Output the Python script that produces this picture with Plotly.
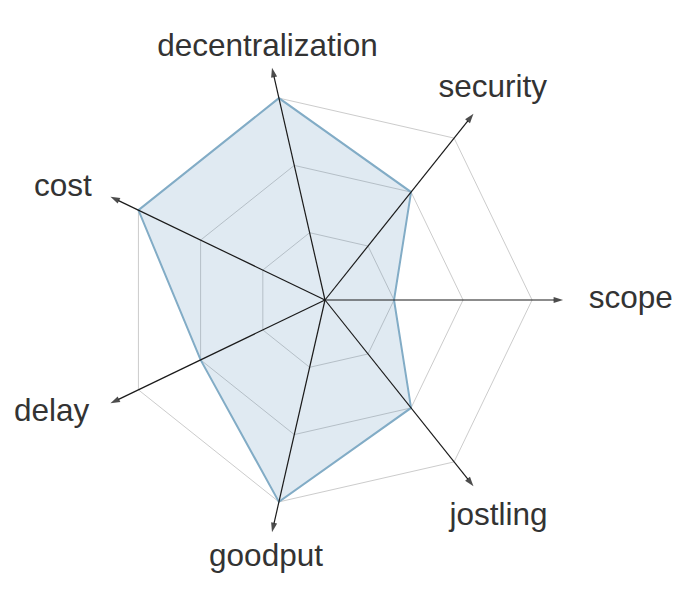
import plotly.graph_objects as go

# ---- data ----
categories = ["scope", "security", "decentralization", "cost", "delay", "goodput", "jostling"]
values = [1, 2, 3, 3, 2, 3, 2]
grid_levels = [1, 2, 3]

# ---- style ----
axis_len = 3.45
r_max = 4.1
label_r = [3.82, 3.9, 3.74, 3.75, 3.79, 3.84, 4.03]
label_pos = ["middle right", "middle center", "middle center", "middle left",
             "middle left", "middle center", "middle center"]
font_family = "Liberation Sans, Arial, Helvetica, sans-serif"

fig = go.Figure()

# data polygon
fig.add_trace(go.Scatterpolar(
    r=values + values[:1],
    theta=categories + categories[:1],
    mode="lines",
    fill="toself",
    fillcolor="rgba(70,130,180,0.17)",
    line=dict(color="rgb(130,172,198)", width=2),
    hoverinfo="skip",
    showlegend=False,
))

# axis spokes with arrowheads
for cat in categories:
    fig.add_trace(go.Scatterpolar(
        r=[0, axis_len],
        theta=[cat, cat],
        mode="lines+markers",
        line=dict(color="#1a1a1a", width=1.2),
        marker=dict(symbol="arrow", size=[0, 10], color="#000000",
                    angleref="previous", line=dict(width=0)),
        cliponaxis=False,
        hoverinfo="skip",
        showlegend=False,
    ))

# labels
fig.add_trace(go.Scatterpolar(
    r=label_r,
    theta=categories,
    mode="text",
    text=categories,
    textposition=label_pos,
    textfont=dict(family=font_family, size=31.5, color="#333333"),
    cliponaxis=False,
    hoverinfo="skip",
    showlegend=False,
))

cx, cy, rad = 325, 300, 283
fig.update_layout(
    width=690, height=602,
    margin=dict(l=0, r=0, t=0, b=0),
    paper_bgcolor="white",
    plot_bgcolor="white",
    polar=dict(
        domain=dict(x=[(cx - rad) / 690, (cx + rad) / 690],
                    y=[(602 - cy - rad) / 602, (602 - cy + rad) / 602]),
        bgcolor="rgba(0,0,0,0)",
        gridshape="linear",
        radialaxis=dict(range=[0, r_max], tickvals=grid_levels, showticklabels=False,
                        ticks="", showline=False, showgrid=True,
                        gridcolor="#cccccc", gridwidth=1),
        angularaxis=dict(type="category", categoryarray=categories,
                         direction="counterclockwise", rotation=0,
                         showgrid=False, showline=False, showticklabels=False,
                         ticks=""),
    ),
    showlegend=False,
)

fig.write_html("out.html")
